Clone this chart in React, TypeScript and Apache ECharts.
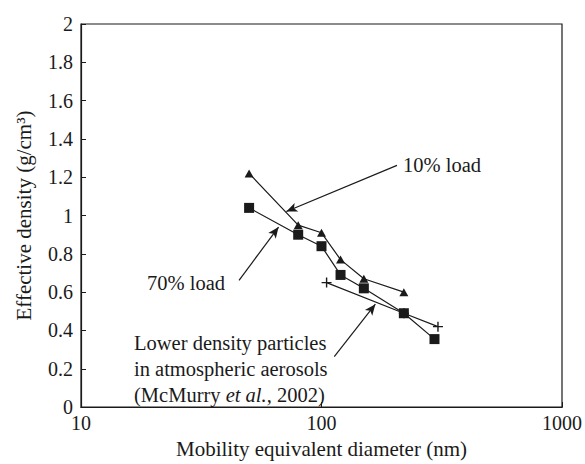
import React, { useEffect, useRef } from "react";
import * as echarts from "echarts";

// Effective density vs mobility diameter
const diam10: number[] = [50, 80, 100, 120, 150, 220];
const dens10: number[] = [1.22, 0.95, 0.91, 0.77, 0.67, 0.6];
const diam70: number[] = [50, 80, 100, 120, 150, 220, 295];
const dens70: number[] = [1.04, 0.9, 0.84, 0.69, 0.62, 0.49, 0.355];
const diamMc: number[] = [105, 220, 305];
const densMc: number[] = [0.65, 0.49, 0.42];

// annotation arrows, in data coordinates [diameter, density]
const arrow10: number[][] = [[206, 1.262], [71.4, 1.021]];
const arrow70: number[][] = [[45.4, 0.662], [66.3, 0.94]];
const arrowMc: number[][] = [[113, 0.263], [167.5, 0.537]];

const FONT = "Liberation Serif";
const INK = "#1a1a1a";

export default function App() {
  const ref = useRef<HTMLDivElement>(null);
  useEffect(() => {
    if (!ref.current) return;
    const chart = echarts.init(ref.current, null, { renderer: "svg" });
    const zip = (xs: number[], ys: number[]) => xs.map((x, i) => [x, ys[i]]);
    const arrowLine = (a: number[][]) => [{ coord: a[0] }, { coord: a[1] }];
    const plusPath =
      "path://M-0.7,-5H0.7V-0.7H5V0.7H0.7V5H-0.7V0.7H-5V-0.7H-0.7Z";
    chart.setOption({
      animation: false,
      backgroundColor: "#ffffff",
      grid: {
        left: 81,
        top: 24,
        right: 22,
        bottom: 50,
        show: true,
        borderColor: INK,
        borderWidth: 1.2,
      },
      xAxis: {
        type: "log",
        logBase: 10,
        min: 10,
        max: 1000,
        name: "Mobility equivalent diameter (nm)",
        nameLocation: "middle",
        nameGap: 30,
        nameTextStyle: { fontFamily: FONT, fontSize: 21, color: INK },
        axisLine: { show: true, lineStyle: { color: INK, width: 1.2 } },
        axisTick: { show: true, inside: true, length: 5, lineStyle: { color: INK } },
        minorTick: { show: false },
        splitLine: { show: false },
        axisLabel: {
          fontFamily: FONT,
          fontSize: 20,
          color: INK,
          margin: 6,
          formatter: (v: number) => String(Math.round(v)),
        },
      },
      yAxis: {
        type: "value",
        min: 0,
        max: 2,
        interval: 0.2,
        name: "Effective density (g/cm³)",
        nameLocation: "middle",
        nameRotate: 90,
        nameGap: 47,
        nameTextStyle: { fontFamily: FONT, fontSize: 21, color: INK },
        axisLine: { show: true, lineStyle: { color: INK, width: 1.2 } },
        axisTick: { show: true, inside: true, length: 5, lineStyle: { color: INK } },
        splitLine: { show: false },
        axisLabel: { fontFamily: FONT, fontSize: 20, color: INK, margin: 8 },
      },
      series: [
        {
          name: "McMurry",
          type: "line",
          data: zip(diamMc, densMc),
          symbol: plusPath,
          symbolSize: 10,
          itemStyle: { color: INK },
          lineStyle: { color: INK, width: 1.2 },
          markLine: {
            silent: true,
            symbol: ["none", "arrow"],
            symbolSize: [7, 11],
            label: { show: false },
            lineStyle: { color: INK, width: 1.2, type: "solid" },
            data: [arrowLine(arrow10), arrowLine(arrow70), arrowLine(arrowMc)],
          },
        },
        {
          name: "70% load",
          type: "line",
          data: zip(diam70, dens70),
          symbol: "rect",
          symbolSize: 10,
          itemStyle: { color: INK },
          lineStyle: { color: INK, width: 1.2 },
        },
        {
          name: "10% load",
          type: "line",
          data: zip(diam10, dens10),
          symbol: "triangle",
          symbolSize: [9, 8],
          itemStyle: { color: INK },
          lineStyle: { color: INK, width: 1.2 },
        },
      ],
      graphic: [
        {
          type: "text",
          left: 403,
          top: 154,
          style: { text: "10% load", fontFamily: FONT, fontSize: 20.5, fill: INK },
        },
        {
          type: "text",
          left: 147,
          top: 272,
          style: { text: "70% load", fontFamily: FONT, fontSize: 20.5, fill: INK },
        },
        {
          type: "text",
          left: 134,
          top: 330,
          style: {
            text:
              "{n|Lower density particles}\n{n|in atmospheric aerosols}\n{n|(McMurry }{i|et al.}{n|, 2002)}",
            fontFamily: FONT,
            fontSize: 20.5,
            fill: INK,
            lineHeight: 26,
            rich: {
              n: { fontFamily: FONT, fontSize: 20.5, fill: INK, lineHeight: 26 },
              i: {
                fontFamily: FONT,
                fontSize: 20.5,
                fontStyle: "italic",
                fill: INK,
                lineHeight: 26,
              },
            },
          },
        },
      ],
    });
    return () => chart.dispose();
  }, []);
  return (
    <div
      ref={ref}
      style={{ position: "fixed", left: 0, top: 0, width: 585, height: 464 }}
    />
  );
}
